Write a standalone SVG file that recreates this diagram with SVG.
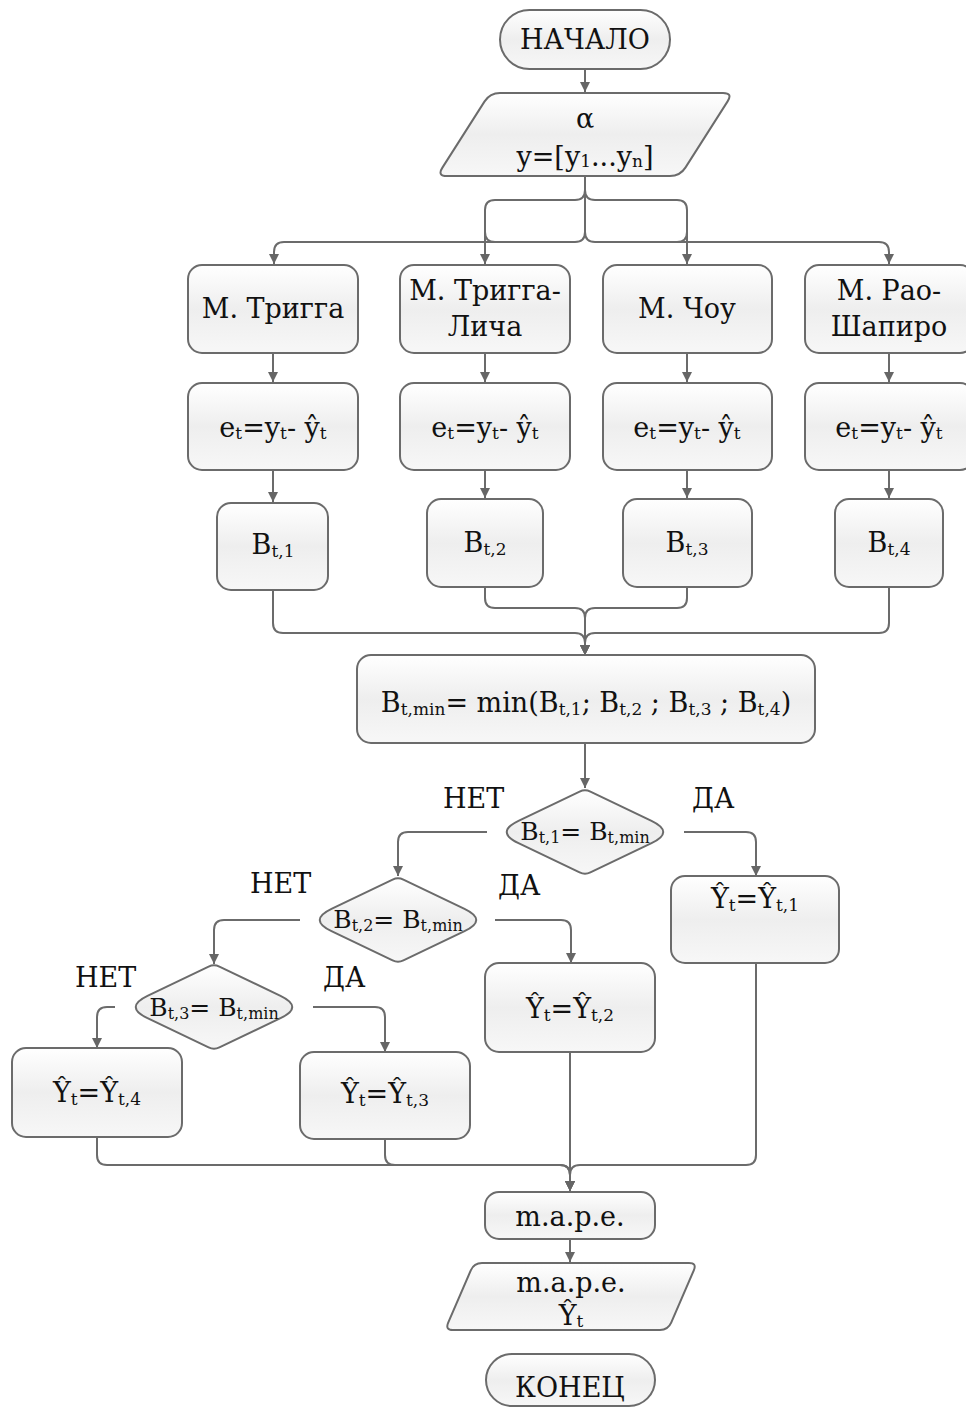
<svg xmlns="http://www.w3.org/2000/svg" width="966" height="1407" viewBox="0 0 966 1407">
  <defs>
    <linearGradient id="fillGrad" x1="0" y1="0" x2="0" y2="1">
      <stop offset="0" stop-color="#ffffff"/>
      <stop offset="0.5" stop-color="#eeeeee"/>
      <stop offset="1" stop-color="#f7f7f7"/>
    </linearGradient>
    <marker id="arrow" viewBox="0 0 10 10" refX="10" refY="5" markerWidth="10" markerHeight="10" orient="auto" markerUnits="userSpaceOnUse">
      <path d="M0,0 L10,5 L0,10 Z" fill="#666666"/>
    </marker>
    <!-- decision shape, centred on the origin, with bulging rounded side tips -->
    <path id="diamond" d="M-5.4,-40.4 Q0,-43 5.4,-40.4 L66.5,-11.2 Q90,0 66.5,11.2 L5.4,40.4 Q0,43 -5.4,40.4 L-66.5,11.2 Q-90,0 -66.5,-11.2 Z"/>
    <style>
      .box { fill: url(#fillGrad); stroke: #6b6b6b; stroke-width: 2; }
      .conn { fill: none; stroke: #6b6b6b; stroke-width: 2; }
      .arr { marker-end: url(#arrow); }
      .t { font-family: "DejaVu Serif", "Liberation Serif", serif; font-size: 27px; fill: #111111; text-anchor: middle; }
      .s { font-size: 17px; }
      .d { font-size: 25px; }
      .ds { font-size: 16px; }
      .lbl { font-family: "DejaVu Serif", "Liberation Serif", serif; font-size: 27px; fill: #111111; }
    </style>
  </defs>

  <g id="connectors">
    <path class="conn arr" d="M585,69 V92"/>
    <!-- fan-out to the four methods -->
    <path class="conn arr" d="M585,176 V232 Q585,242 575,242 H284 Q274,242 274,252 V264"/>
    <path class="conn arr" d="M585,176 V190 Q585,200 575,200 H495 Q485,200 485,210 V264"/>
    <path class="conn" d="M485,232 Q485,242 495,242"/>
    <path class="conn arr" d="M585,176 V190 Q585,200 595,200 H677 Q687,200 687,210 V264"/>
    <path class="conn" d="M687,232 Q687,242 677,242"/>
    <path class="conn arr" d="M585,176 V232 Q585,242 595,242 H879 Q889,242 889,252 V264"/>
    <!-- method -> residuals -->
    <path class="conn arr" d="M273,353 V382"/>
    <path class="conn arr" d="M485,353 V382"/>
    <path class="conn arr" d="M687,353 V382"/>
    <path class="conn arr" d="M889,353 V382"/>
    <!-- residuals -> criteria -->
    <path class="conn arr" d="M273,470 V502"/>
    <path class="conn arr" d="M485,470 V498"/>
    <path class="conn arr" d="M687,470 V498"/>
    <path class="conn arr" d="M889,470 V498"/>
    <!-- criteria -> minimum -->
    <path class="conn arr" d="M273,590 V623 Q273,633 283,633 H575 Q585,633 585,643 V655"/>
    <path class="conn arr" d="M485,587 V598 Q485,608 495,608 H575 Q585,608 585,618 V655"/>
    <path class="conn arr" d="M687,587 V598 Q687,608 677,608 H595 Q585,608 585,618 V655"/>
    <path class="conn arr" d="M889,587 V623 Q889,633 879,633 H595 Q585,633 585,643 V655"/>
    <path class="conn arr" d="M585,743 V788"/>
    <!-- decision branches -->
    <path class="conn arr" d="M487,832 H408 Q398,832 398,842 V876"/>
    <path class="conn arr" d="M684,832 H746 Q756,832 756,842 V876"/>
    <path class="conn arr" d="M300,920 H224 Q214,920 214,930 V964"/>
    <path class="conn arr" d="M495,920 H561 Q571,920 571,930 V963"/>
    <path class="conn arr" d="M115,1007 H107 Q97,1007 97,1017 V1048"/>
    <path class="conn arr" d="M313,1007 H375 Q385,1007 385,1017 V1052"/>
    <!-- results -> m.a.p.e. -->
    <path class="conn arr" d="M97,1137 V1155 Q97,1165 107,1165 H560 Q570,1165 570,1175 V1191"/>
    <path class="conn arr" d="M385,1139 V1155 Q385,1165 395,1165 H560 Q570,1165 570,1175 V1191"/>
    <path class="conn arr" d="M570,1052 V1191"/>
    <path class="conn arr" d="M756,963 V1155 Q756,1165 746,1165 H580 Q570,1165 570,1175 V1191"/>
    <path class="conn arr" d="M570,1239 V1262"/>
  </g>

  <g id="start">
    <rect class="box" x="500" y="10" width="170" height="59" rx="29.5"/>
    <text class="t" x="585" y="49">НАЧАЛО</text>
  </g>

  <g id="input">
    <path class="box" d="M500,93 H723 Q733,93 727.6,101.4 L685.4,167.6 Q680,176 670,176 H447 Q437,176 442.4,167.6 L484.6,101.4 Q490,93 500,93 Z"/>
    <text class="t" x="585" y="128">α</text>
    <text class="t" x="585" y="166">y=[y<tspan class="s" dy="1">1</tspan><tspan dy="-1">...y</tspan><tspan class="s" dy="1">n</tspan><tspan dy="-1">]</tspan></text>
  </g>

  <g id="method1">
    <rect class="box" x="188" y="265" width="170" height="88" rx="14"/>
    <text class="t" x="273" y="318">М. Тригга</text>
  </g>
  <g id="method2">
    <rect class="box" x="400" y="265" width="170" height="88" rx="14"/>
    <text class="t" x="485" y="300">М. Тригга-</text>
    <text class="t" x="485" y="336">Лича</text>
  </g>
  <g id="method3">
    <rect class="box" x="603" y="265" width="169" height="88" rx="14"/>
    <text class="t" x="687" y="318">М. Чоу</text>
  </g>
  <g id="method4">
    <rect class="box" x="805" y="265" width="169" height="88" rx="14"/>
    <text class="t" x="889" y="300">М. Рао-</text>
    <text class="t" x="889" y="336">Шапиро</text>
  </g>

  <g id="resid1">
    <rect class="box" x="188" y="383" width="170" height="87" rx="14"/>
    <text class="t" x="273" y="437">e<tspan class="s" dy="2">t</tspan><tspan dy="-2">=y</tspan><tspan class="s" dy="2">t</tspan><tspan dy="-2">- ŷ</tspan><tspan class="s" dy="2">t</tspan></text>
  </g>
  <g id="resid2">
    <rect class="box" x="400" y="383" width="170" height="87" rx="14"/>
    <text class="t" x="485" y="437">e<tspan class="s" dy="2">t</tspan><tspan dy="-2">=y</tspan><tspan class="s" dy="2">t</tspan><tspan dy="-2">- ŷ</tspan><tspan class="s" dy="2">t</tspan></text>
  </g>
  <g id="resid3">
    <rect class="box" x="603" y="383" width="169" height="87" rx="14"/>
    <text class="t" x="687" y="437">e<tspan class="s" dy="2">t</tspan><tspan dy="-2">=y</tspan><tspan class="s" dy="2">t</tspan><tspan dy="-2">- ŷ</tspan><tspan class="s" dy="2">t</tspan></text>
  </g>
  <g id="resid4">
    <rect class="box" x="805" y="383" width="169" height="87" rx="14"/>
    <text class="t" x="889" y="437">e<tspan class="s" dy="2">t</tspan><tspan dy="-2">=y</tspan><tspan class="s" dy="2">t</tspan><tspan dy="-2">- ŷ</tspan><tspan class="s" dy="2">t</tspan></text>
  </g>

  <g id="crit1">
    <rect class="box" x="217" y="503" width="111" height="87" rx="14"/>
    <text class="t" x="273" y="554">B<tspan class="s" dy="3">t,1</tspan></text>
  </g>
  <g id="crit2">
    <rect class="box" x="427" y="499" width="116" height="88" rx="14"/>
    <text class="t" x="485" y="552">B<tspan class="s" dy="3">t,2</tspan></text>
  </g>
  <g id="crit3">
    <rect class="box" x="623" y="499" width="129" height="88" rx="14"/>
    <text class="t" x="687" y="552">B<tspan class="s" dy="3">t,3</tspan></text>
  </g>
  <g id="crit4">
    <rect class="box" x="835" y="499" width="108" height="88" rx="14"/>
    <text class="t" x="889" y="552">B<tspan class="s" dy="3">t,4</tspan></text>
  </g>

  <g id="minimum">
    <rect class="box" x="357" y="655" width="458" height="88" rx="14"/>
    <text class="t" x="586" y="712">B<tspan class="s" dy="3">t,min</tspan><tspan dy="-3">= min(B</tspan><tspan class="s" dy="3">t,1</tspan><tspan dy="-3">; B</tspan><tspan class="s" dy="3">t,2</tspan><tspan dy="-3"> ; B</tspan><tspan class="s" dy="3">t,3</tspan><tspan dy="-3"> ; B</tspan><tspan class="s" dy="3">t,4</tspan><tspan dy="-3">)</tspan></text>
  </g>

  <g id="check1">
    <use href="#diamond" x="585" y="832" class="box"/>
    <text class="t d" x="585" y="840">B<tspan class="ds" dy="3">t,1</tspan><tspan dy="-3">= B</tspan><tspan class="ds" dy="3">t,min</tspan></text>
    <text class="lbl" x="443" y="808">НЕТ</text>
    <text class="lbl" x="692" y="808">ДА</text>
  </g>
  <g id="check2">
    <use href="#diamond" x="398" y="920" class="box"/>
    <text class="t d" x="398" y="928">B<tspan class="ds" dy="3">t,2</tspan><tspan dy="-3">= B</tspan><tspan class="ds" dy="3">t,min</tspan></text>
    <text class="lbl" x="250" y="893">НЕТ</text>
    <text class="lbl" x="498" y="895">ДА</text>
  </g>
  <g id="check3">
    <use href="#diamond" x="214" y="1007" class="box"/>
    <text class="t d" x="214" y="1016">B<tspan class="ds" dy="3">t,3</tspan><tspan dy="-3">= B</tspan><tspan class="ds" dy="3">t,min</tspan></text>
    <text class="lbl" x="75" y="987">НЕТ</text>
    <text class="lbl" x="323" y="987">ДА</text>
  </g>

  <g id="result1">
    <rect class="box" x="671" y="876" width="168" height="87" rx="14"/>
    <text class="t" x="755" y="908">Ŷ<tspan class="s" dy="3">t</tspan><tspan dy="-3">=Ŷ</tspan><tspan class="s" dy="3">t,1</tspan></text>
  </g>
  <g id="result2">
    <rect class="box" x="485" y="963" width="170" height="89" rx="14"/>
    <text class="t" x="570" y="1018">Ŷ<tspan class="s" dy="3">t</tspan><tspan dy="-3">=Ŷ</tspan><tspan class="s" dy="3">t,2</tspan></text>
  </g>
  <g id="result3">
    <rect class="box" x="300" y="1052" width="170" height="87" rx="14"/>
    <text class="t" x="385" y="1103">Ŷ<tspan class="s" dy="3">t</tspan><tspan dy="-3">=Ŷ</tspan><tspan class="s" dy="3">t,3</tspan></text>
  </g>
  <g id="result4">
    <rect class="box" x="12" y="1048" width="170" height="89" rx="14"/>
    <text class="t" x="97" y="1102">Ŷ<tspan class="s" dy="3">t</tspan><tspan dy="-3">=Ŷ</tspan><tspan class="s" dy="3">t,4</tspan></text>
  </g>

  <g id="mape">
    <rect class="box" x="485" y="1192" width="170" height="47" rx="14"/>
    <text class="t" x="570" y="1226">m.a.p.e.</text>
  </g>

  <g id="output">
    <path class="box" d="M482,1263 H689 Q697,1263 693.8,1270.3 L671.2,1322.7 Q668,1330 660,1330 H453 Q445,1330 448.2,1322.7 L470.8,1270.3 Q474,1263 482,1263 Z"/>
    <text class="t" x="571" y="1292">m.a.p.e.</text>
    <text class="t" x="571" y="1325">Ŷ<tspan class="s" dy="2">t</tspan></text>
  </g>

  <g id="end">
    <rect class="box" x="486" y="1354" width="169" height="52" rx="26"/>
    <text class="t" x="570" y="1397">КОНЕЦ</text>
  </g>
</svg>
